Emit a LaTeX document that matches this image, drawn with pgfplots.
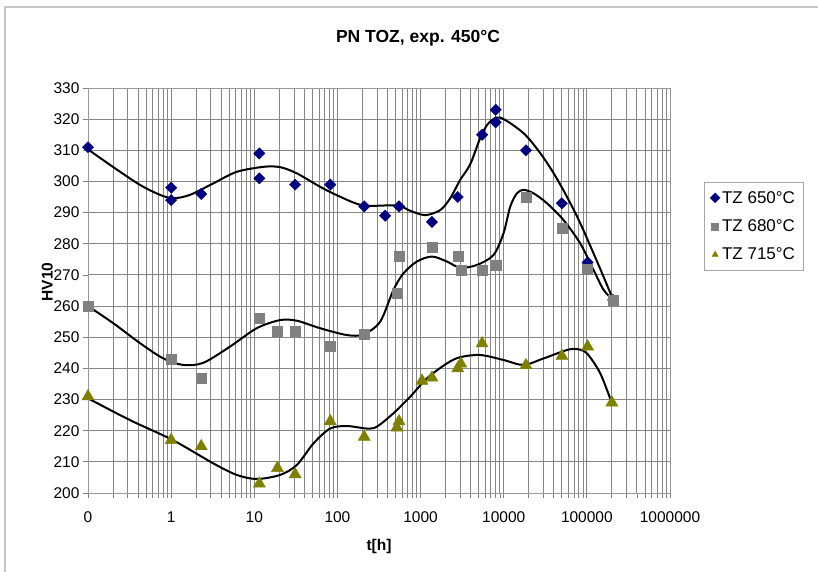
\documentclass[border=0pt]{standalone}
\usepackage{pgfplots}
\pgfplotsset{compat=1.18}
\usepackage{fontspec}
\setmainfont{Liberation Sans}
\definecolor{dkblue}{RGB}{0,0,128}
\definecolor{mgrey}{RGB}{128,128,128}
\definecolor{olive2}{RGB}{128,128,0}
\definecolor{gridc}{RGB}{135,135,135}
\begin{document}
\begin{tikzpicture}
\path[use as bounding box] (0pt,0pt) rectangle (818pt,-571pt);
\draw[gray!45, line width=1.2pt] (5pt,-575pt) -- (5pt,-7pt) -- (825pt,-7pt);
\node[font=\bfseries\fontsize{17.5}{18}\selectfont] at (418pt,-38pt) {PN TOZ, exp. 450°C};
\begin{axis}[
  at={(88pt,-493pt)}, anchor=south west,
  scale only axis, width=582pt, height=405pt,
  xmode=log, xmin=0.1, xmax=1000000,
  ymin=200, ymax=330,
  ytick={200,210,...,330},
  xtick={0.1,1,10,100,1000,10000,100000,1000000},
  xticklabels={0,1,10,100,1000,10000,100000,1000000},
  minor xtick={0.2,0.3,0.4,0.5,0.6,0.7,0.8,0.9,2,3,4,5,6,7,8,9,20,30,40,50,60,70,80,90,200,300,400,500,600,700,800,900,2000,3000,4000,5000,6000,7000,8000,9000,20000,30000,40000,50000,60000,70000,80000,90000,200000,300000,400000,500000,600000,700000,800000,900000},
  grid=both,
  major grid style={draw=gridc, line width=0.9pt},
  minor grid style={draw=gridc, line width=0.9pt},
  tick align=outside, tick pos=left,
  major tick length=5pt, minor tick length=5pt,
  every tick/.style={draw=gray, line width=0.8pt},
  axis line style={draw=gray!80, line width=0.8pt},
  /pgf/number format/assume math mode=true,
  ticklabel style={font=\fontsize{15.5}{15.5}\selectfont},
  xticklabel style={yshift=-10pt},
  xlabel={t[h]}, ylabel={HV10},
  label style={font=\bfseries\fontsize{15.5}{15.5}\selectfont},
  xlabel style={at={(axis description cs:0.5,-0.133)}, anchor=center},
  ylabel style={at={(axis description cs:-0.07,0.521)}, anchor=center},
  clip=false,
  legend style={at={(axis description cs:1.0584,0.768)}, anchor=north west,
    draw=gray!70, font=\fontsize{17}{17}\selectfont, row sep=11pt,
    inner xsep=6pt, inner ysep=7pt},
  legend cell align=left,
  legend image post style={mark size=3.5pt},
]
\addplot[only marks, mark=square*, mark options={rotate=45}, mark size=4pt, color=dkblue] coordinates {
(0.1,311) (1,298) (1,294) (2.3,296) (11.5,309) (11.5,301) (31,299) (82,299)
(210,292) (375,289) (550,292) (1370,287) (2800,295) (5500,315) (8000,323)
(8000,319) (18500,310) (50000,293) (102000,274) (207000,262)};
\addlegendentry{TZ 650°C}
\addplot[only marks, mark=square*, mark size=5pt, color=mgrey] coordinates {
(0.1,260) (1,243) (2.3,237) (11.5,256) (19,252) (31,252) (82,247) (210,251)
(520,264) (550,276) (1370,279) (2800,276) (3050,271.5) (5500,271.5) (8100,273)
(18500,295) (50000,285) (102000,272) (207000,262)};
\addlegendentry{TZ 680°C}
\addplot[only marks, mark=triangle*, mark size=7pt, color=olive2] coordinates {
(0.1,231) (1,217) (2.3,215) (11.5,203) (19,208) (31,206) (82,223) (210,218)
(520,221) (550,223) (1040,236) (1370,237) (2800,240) (3050,241.5) (5500,248)
(18500,241) (50000,244) (102000,247) (200000,229)};
\addlegendentry{TZ 715°C}
\addplot[forget plot, black, line width=2pt, smooth] coordinates {
(0.1,310.3) (0.2016,304.6) (0.4223,298.9) (0.7353,295.7) (1.063,294.6) (1.688,295.7)
(3.22,299.4) (6.16,303.1) (12.87,304.7) (20.4,304.6) (32.5,302.6) (61.9,298.3)
(107.8,295.1) (205.6,292.3) (518.5,292.3) (749.5,290.6) (1136,289.2) (1721,290.8)
(2271,294.6) (2996,300.5) (3953,305.5) (5214,313.9) (6564,318.7) (9077,320.5)
(17310,315.5) (27490,309.1) (39740,302.7) (57600,295.1) (83280,286.6)
(120400,276.9) (158900,269.4) (207000,262)};
\addplot[forget plot, black, line width=2pt, smooth] coordinates {
(0.1,260) (0.2016,254.5) (0.4223,248.1) (0.8055,243.2) (1.402,241.1) (2.44,241.8)
(5.11,247.0) (10.7,252.9) (20.4,255.5) (32.5,255.3) (61.9,252.9) (129.8,250.7)
(205.6,250.9) (326.5,255.0) (472,265.2) (622.6,270.5) (902.8,274.3) (1368,275.9)
(2073,274.3) (2996,272.3) (4759,273.2) (7540,276.4) (9945,283.4) (11970,291.9)
(14410,296.2) (17310,297.3) (22830,296.2) (33110,293) (52430,287.6) (83280,280.1)
(120400,271.6) (158900,265.2) (207000,262)};
\addplot[forget plot, black, line width=2pt, smooth] coordinates {
(0.1,230.4) (0.320,223.4) (1.045,217.0) (3.22,209.5) (6.16,205.8) (10.7,204.5)
(20.4,205.8) (32.5,209.0) (51.4,215.9) (81.7,220.7) (129.8,221.5) (225.8,220.7)
(298,221.3) (472,225.6) (749.5,230.9) (1191,236.8) (2073,241.6) (2996,243.6)
(5214,244.3) (9945,242.7) (17310,241.1) (30130,243.2) (57600,245.9) (76030,246.2)
(100300,244.8) (145000,238.4) (200000,228.8)};
\end{axis}
\end{tikzpicture}
\end{document}
